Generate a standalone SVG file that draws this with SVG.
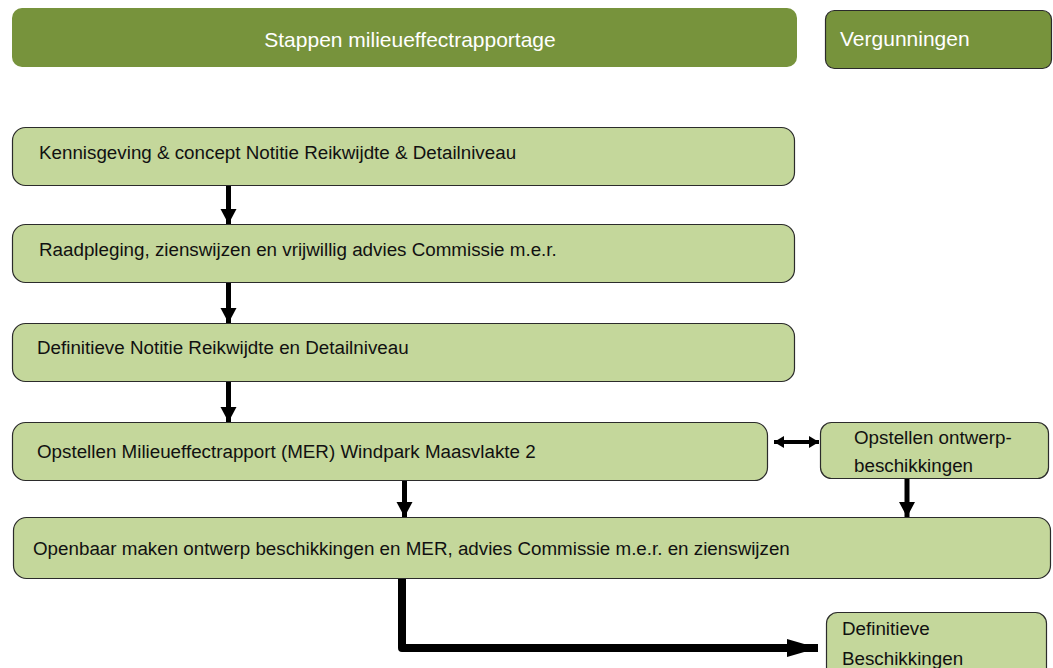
<svg xmlns="http://www.w3.org/2000/svg" width="1053" height="668" viewBox="0 0 1053 668">
<style>
.hdr{fill:#77933c}
.box{fill:#c4d79b;stroke:#2b2b2b;stroke-width:1.2}
.t{font-family:"Liberation Sans",Arial,sans-serif;font-size:18.8px;fill:#111}
.th{font-family:"Liberation Sans",Arial,sans-serif;font-size:21px;fill:#fff}
.c{stroke:#000;fill:none}
</style>
<defs>
<marker id="ah" markerUnits="userSpaceOnUse" markerWidth="18" markerHeight="18" refX="15" refY="8" orient="auto">
<path d="M0,0 L15,8 L0,16 Z" fill="#000"/>
</marker>
<marker id="ahs" markerUnits="userSpaceOnUse" markerWidth="14" markerHeight="14" refX="10" refY="6" orient="auto-start-reverse">
<path d="M0,0 L10,6 L0,12 Z" fill="#000"/>
</marker>
<marker id="ahb" markerUnits="userSpaceOnUse" markerWidth="34" markerHeight="20" refX="31" refY="9" orient="auto">
<path d="M0,0 L31,9 L0,18 Z" fill="#000"/>
</marker>
</defs>
<g id="header-mer">
<rect class="hdr" x="12" y="8" width="785" height="59" rx="10"/>
<text class="th" x="410" y="47" text-anchor="middle">Stappen milieueffectrapportage</text>
</g>
<g id="header-vergunningen">
<rect class="hdr" x="825.5" y="10.5" width="226" height="58" rx="9" stroke="#2b2b2b" stroke-width="1.2"/>
<text class="th" x="840" y="46">Vergunningen</text>
</g>
<g id="stap1">
<rect class="box" x="12.5" y="127.5" width="782" height="58" rx="13"/>
<text class="t" x="39" y="159">Kennisgeving &amp; concept Notitie Reikwijdte &amp; Detailniveau</text>
</g>
<g id="stap2">
<rect class="box" x="12.5" y="224.5" width="782" height="58" rx="13"/>
<text class="t" x="39" y="256">Raadpleging, zienswijzen en vrijwillig advies Commissie m.e.r.</text>
</g>
<g id="stap3">
<rect class="box" x="12.5" y="323.5" width="782" height="58" rx="13"/>
<text class="t" x="37" y="354">Definitieve Notitie Reikwijdte en Detailniveau</text>
</g>
<g id="stap4">
<rect class="box" x="12.5" y="422.5" width="755" height="58" rx="13"/>
<text class="t" x="37" y="458">Opstellen Milieueffectrapport (MER) Windpark Maasvlakte 2</text>
</g>
<g id="ontwerp">
<rect class="box" x="820.5" y="422.5" width="228" height="56" rx="11"/>
<text class="t" x="854" y="444">Opstellen ontwerp-</text>
<text class="t" x="854" y="472">beschikkingen</text>
</g>
<g id="stap5">
<rect class="box" x="13.5" y="517.5" width="1037" height="61" rx="13"/>
<text class="t" x="33" y="555">Openbaar maken ontwerp beschikkingen en MER, advies Commissie m.e.r. en zienswijzen</text>
</g>
<g id="definitief">
<rect class="box" x="826.5" y="612.5" width="220" height="70" rx="11"/>
<text class="t" x="842" y="635">Definitieve</text>
<text class="t" x="842" y="665">Beschikkingen</text>
</g>
<g id="connectors">
<line class="c" x1="228.5" y1="186" x2="228.5" y2="224" stroke-width="5" marker-end="url(#ah)"/>
<line class="c" x1="228.5" y1="283" x2="228.5" y2="323" stroke-width="5" marker-end="url(#ah)"/>
<line class="c" x1="228.5" y1="382" x2="228.5" y2="422" stroke-width="5" marker-end="url(#ah)"/>
<line class="c" x1="404.5" y1="481" x2="404.5" y2="517" stroke-width="5" marker-end="url(#ah)"/>
<line class="c" x1="907" y1="479" x2="907" y2="517" stroke-width="5" marker-end="url(#ah)"/>
<line class="c" x1="774" y1="442" x2="819" y2="442" stroke-width="4" marker-start="url(#ahs)" marker-end="url(#ahs)"/>
<path class="c" d="M402 579 V648 H818" stroke-width="8" stroke-linejoin="round" marker-end="url(#ahb)"/>
</g>
</svg>
